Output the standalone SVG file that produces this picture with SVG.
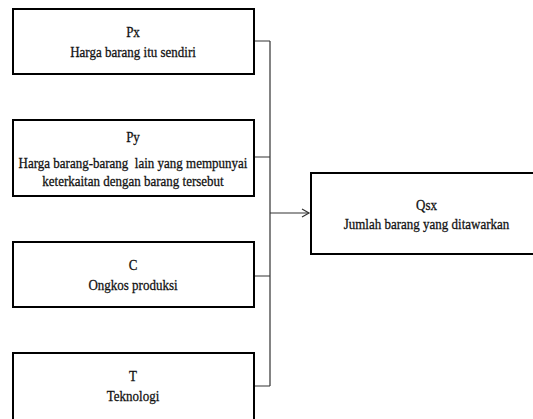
<svg xmlns="http://www.w3.org/2000/svg" width="533" height="419" viewBox="0 0 533 419">
<style>
.box{fill:#fff;stroke:#000;stroke-width:2}
.t{font-family:"Liberation Serif","Times New Roman",serif;font-size:13px;fill:#111;stroke:#111;stroke-width:0.25;text-anchor:middle}
.c{fill:none;stroke:#333;stroke-width:1.2}
</style>
<defs>
<marker id="ah" markerWidth="10" markerHeight="10" refX="8" refY="5" orient="auto" markerUnits="userSpaceOnUse">
<path d="M1,1 L8,5 L1,9" fill="none" stroke="#333" stroke-width="1.2"/>
</marker>
</defs>
<rect width="533" height="419" fill="#fff"/>
<g id="connectors">
<path class="c" d="M254,41 H270 M254,157 H270 M254,276 H270 M254,386 H270 M270,41 V386"/>
<path class="c" d="M270,213 H309" marker-end="url(#ah)"/>
</g>
<g id="px">
<rect class="box" x="13" y="9" width="241" height="65"/>
<text class="t" transform="translate(133,36.5) scale(1,1.15)">Px</text>
<text class="t" transform="translate(133,57) scale(1,1.15)">Harga barang itu sendiri</text>
</g>
<g id="py">
<rect class="box" x="13" y="120" width="241" height="76"/>
<text class="t" transform="translate(133,141.5) scale(1,1.15)">Py</text>
<text class="t" transform="translate(133,168) scale(1,1.15)" xml:space="preserve">Harga barang-barang  lain yang mempunyai</text>
<text class="t" transform="translate(133,186) scale(1,1.15)">keterkaitan dengan barang tersebut</text>
</g>
<g id="c">
<rect class="box" x="13" y="242" width="241" height="65"/>
<text class="t" transform="translate(133,270) scale(1,1.15)">C</text>
<text class="t" transform="translate(133,290) scale(1,1.15)">Ongkos produksi</text>
</g>
<g id="t">
<rect class="box" x="13" y="353" width="241" height="80"/>
<text class="t" transform="translate(133,380.5) scale(1,1.15)">T</text>
<text class="t" transform="translate(133,401) scale(1,1.15)">Teknologi</text>
</g>
<g id="qsx">
<rect class="box" x="311" y="173" width="240" height="81"/>
<text class="t" transform="translate(426.5,210) scale(1,1.15)">Qsx</text>
<text class="t" transform="translate(426.5,229) scale(1,1.15)">Jumlah barang yang ditawarkan</text>
</g>
</svg>
